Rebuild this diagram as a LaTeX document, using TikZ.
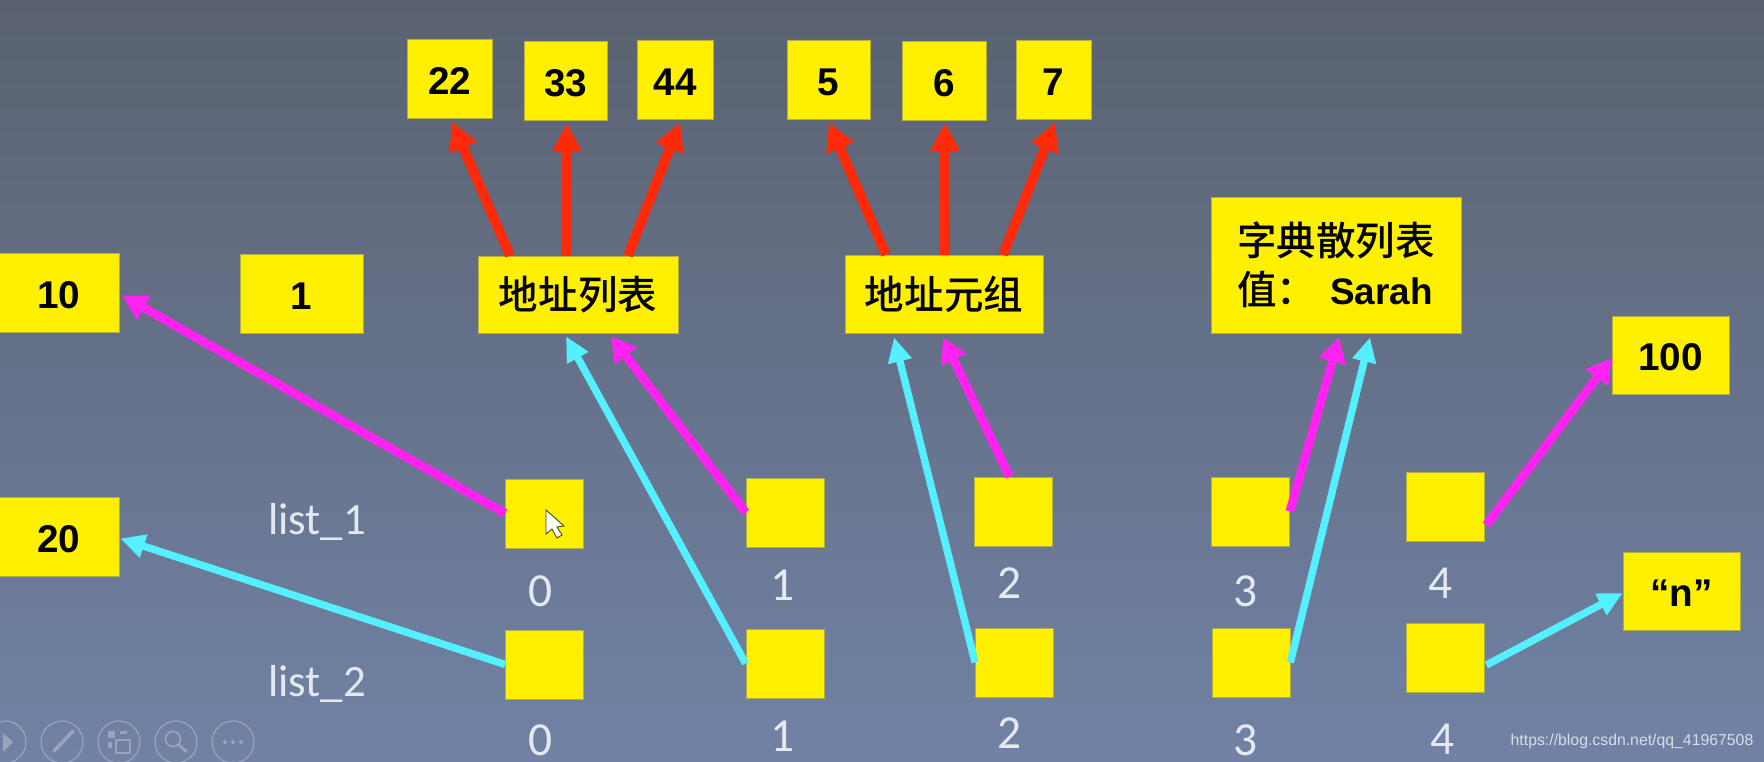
\documentclass[tikz,border=0pt]{standalone}
\usepackage{fontspec}
\setmainfont{Liberation Sans}
\newfontfamily\cjk{Noto Sans CJK SC Medium}
\newfontfamily\lightfont{Carlito}
\usetikzlibrary{arrows.meta,calc}

\definecolor{boxyellow}{HTML}{FFF000}
\definecolor{boxedge}{HTML}{B5AE40}
\definecolor{redline}{HTML}{FF2A0A}
\definecolor{pinkline}{HTML}{FF22F0}
\definecolor{cyanline}{HTML}{55F0FF}
\definecolor{labelgrey}{HTML}{E4E8F0}
\definecolor{markgrey}{HTML}{D8DDE6}
\definecolor{iconline}{HTML}{98A3BC}
\definecolor{slidetop}{HTML}{5A6270}
\definecolor{slidemid}{HTML}{6A7791}
\definecolor{slidebottom}{HTML}{7182A5}

\begin{document}
\begin{tikzpicture}[x=0.02cm,y=-0.02cm,
  yellowbox/.style={draw=boxedge,line width=0.4pt,fill=boxyellow,inner sep=0pt,text=black,text height=18pt,font=\fontsize{22}{28}\selectfont\bfseries},
  topbox/.style={yellowbox,minimum height=1.58cm},
  wordbox/.style={draw=boxedge,line width=0.4pt,fill=boxyellow,inner sep=0pt,text=black,font=\fontsize{22.5}{28}\selectfont\cjk},
  smallbox/.style={yellowbox,minimum width=1.56cm,minimum height=1.38cm},
  redarrow/.style={draw=redline,line width=5.6pt,-{Triangle[length=16pt,width=16pt]}},
  pinkarrow/.style={draw=pinkline,line width=5pt,-{Triangle[length=14pt,width=15pt]}},
  cyanarrow/.style={draw=cyanline,line width=4.2pt,-{Triangle[length=14pt,width=13pt]}},
  indexlabel/.style={text=labelgrey,inner sep=0pt,font=\fontsize{27}{30}\selectfont\lightfont},
  listlabel/.style={text=labelgrey,font=\fontsize{25.5}{28}\selectfont\lightfont},
  toolicon/.style={draw=iconline,line width=0.7pt}]
\useasboundingbox (0,0) rectangle (1764,761);
\shade[top color=slidetop,middle color=slidemid,bottom color=slidebottom] (0,0) rectangle (1764,761);

\node[topbox,minimum width=1.7cm] (box22) at (449.5,79) {22};
\node[topbox,minimum width=1.66cm] (box33) at (565.5,80.5) {33};
\node[topbox,minimum width=1.52cm] (box44) at (675,79.5) {44};
\node[topbox,minimum width=1.66cm] (box5) at (828.5,79.5) {5};
\node[topbox,minimum width=1.68cm] (box6) at (944,81) {6};
\node[topbox,minimum width=1.5cm] (box7) at (1053.5,79.5) {7};

\node[wordbox,minimum width=4cm,minimum height=1.54cm] (addrlist) at (578,294.5) {地址列表};
\node[wordbox,minimum width=3.96cm,minimum height=1.56cm] (addrtuple) at (944,294) {地址元组};
\node[wordbox,minimum width=5cm,minimum height=2.72cm,align=left] (dictvalue) at (1336,265) {字典散列表\\值：\hspace{8pt}{\fontspec{Liberation Sans}\bfseries\fontsize{21}{28}\selectfont Sarah}};

\node[yellowbox,minimum width=2.42cm,minimum height=1.58cm] (box10) at (58.5,292.5) {10};
\node[yellowbox,minimum width=2.46cm,minimum height=1.58cm] (box1) at (301.5,293.5) {1};
\node[yellowbox,minimum width=2.42cm,minimum height=1.58cm] (box20) at (58.5,536.5) {20};
\node[yellowbox,minimum width=2.34cm,minimum height=1.56cm] (box100) at (1670.5,355) {100};
\node[yellowbox,minimum width=2.34cm,minimum height=1.56cm] (boxn) at (1681.5,591) {“n”};

\node[smallbox] (first0) at (544.5,513.5) {};
\node[smallbox] (first1) at (785,512.5) {};
\node[smallbox] (first2) at (1013.5,511.5) {};
\node[smallbox] (first3) at (1250.5,511.5) {};
\node[smallbox] (first4) at (1445,507) {};
\node[smallbox] (second0) at (544.5,664.5) {};
\node[smallbox] (second1) at (785,663.5) {};
\node[smallbox] (second2) at (1014.5,662.5) {};
\node[smallbox] (second3) at (1251,662.5) {};
\node[smallbox] (second4) at (1445,658) {};

\node[listlabel] (list1) at (317,522) {list\_1};
\node[listlabel] (list2) at (317,684) {list\_2};
\node[indexlabel] (first0num) at (541,591) {0};
\node[indexlabel] (first1num) at (783,585) {1};
\node[indexlabel] (first2num) at (1010,583) {2};
\node[indexlabel] (first3num) at (1246,591) {3};
\node[indexlabel] (first4num) at (1441,583) {4};
\node[indexlabel] (second0num) at (541,740) {0};
\node[indexlabel] (second1num) at (783,736) {1};
\node[indexlabel] (second2num) at (1010,733) {2};
\node[indexlabel] (second3num) at (1246,740) {3};
\node[indexlabel] (second4num) at (1443,739) {4};

\draw[redarrow] ($(addrlist.north)+(-68,0)$) -- ($(box22.south)+(2.5,3)$);
\draw[redarrow] ($(addrlist.north)+(-12,0)$) -- ($(box33.south)+(1.5,3)$);
\draw[redarrow] ($(addrlist.north)+(50,0)$) -- ($(box44.south)+(5,3)$);
\draw[redarrow] ($(addrtuple.north)+(-58,0)$) -- ($(box5.south)+(0.5,3)$);
\draw[redarrow] ($(addrtuple.north)+(1,0)$) -- ($(box6.south)+(1,2)$);
\draw[redarrow] ($(addrtuple.north)+(59,0)$) -- ($(box7.south)+(1.5,3)$);

\draw[pinkarrow] (first0.west) -- ($(box10.east)+(3,3)$);
\draw[pinkarrow] (first1.west) -- ($(addrlist.south)+(33,3)$);
\draw[pinkarrow] ($(first2.north)+(-4,0)$) -- ($(addrtuple.south)+(-1,4)$);
\draw[pinkarrow] (first3.east) -- ($(dictvalue.south)+(3,4)$);
\draw[pinkarrow] ($(first4.east)+(2,18)$) -- ($(box100.west)+(0,3)$);

\draw[cyanarrow] (second0.west) -- ($(box20.east)+(1,2)$);
\draw[cyanarrow] (second1.west) -- ($(addrlist.south)+(-12,3)$);
\draw[cyanarrow] (second2.west) -- ($(addrtuple.south)+(-50,4)$);
\draw[cyanarrow] (second3.east) -- ($(dictvalue.south)+(34,4)$);
\draw[cyanarrow] ($(second4.east)+(2,7)$) -- ($(boxn.west)+(0,2)$);

\filldraw[draw=black!70!boxyellow,fill=white,line width=0.5pt] (546,510) -- (546,534) -- (552,529) -- (557,538) -- (562,535) -- (557,527) -- (564,526) -- cycle;

\foreach \iconx in {5,62,119,176,233}
  \draw[toolicon] (\iconx,742) circle (21);
\fill[iconline] (3,733) -- (13,742) -- (3,752) -- cycle;
\draw[iconline,line width=2pt,line cap=round] (54,751) -- (73,731);
\fill[iconline] (108,731) rectangle (115,738);
\fill[iconline] (120,731) rectangle (127,734);
\fill[iconline] (108,742) rectangle (112,748);
\draw[iconline,line width=1pt] (116,740) rectangle (130,753);
\draw[iconline,line width=1pt] (173,739) circle (7.5);
\draw[iconline,line width=1.6pt] (178.5,744.5) -- (187,752);
\foreach \dotx in {225,233,241}
  \fill[iconline] (\dotx,742) circle (2);

\node[text=markgrey,font=\fontsize{9}{11}\selectfont] (watermark) at (1632,741) {https://blog.csdn.net/qq\_41967508};
\end{tikzpicture}
\end{document}
